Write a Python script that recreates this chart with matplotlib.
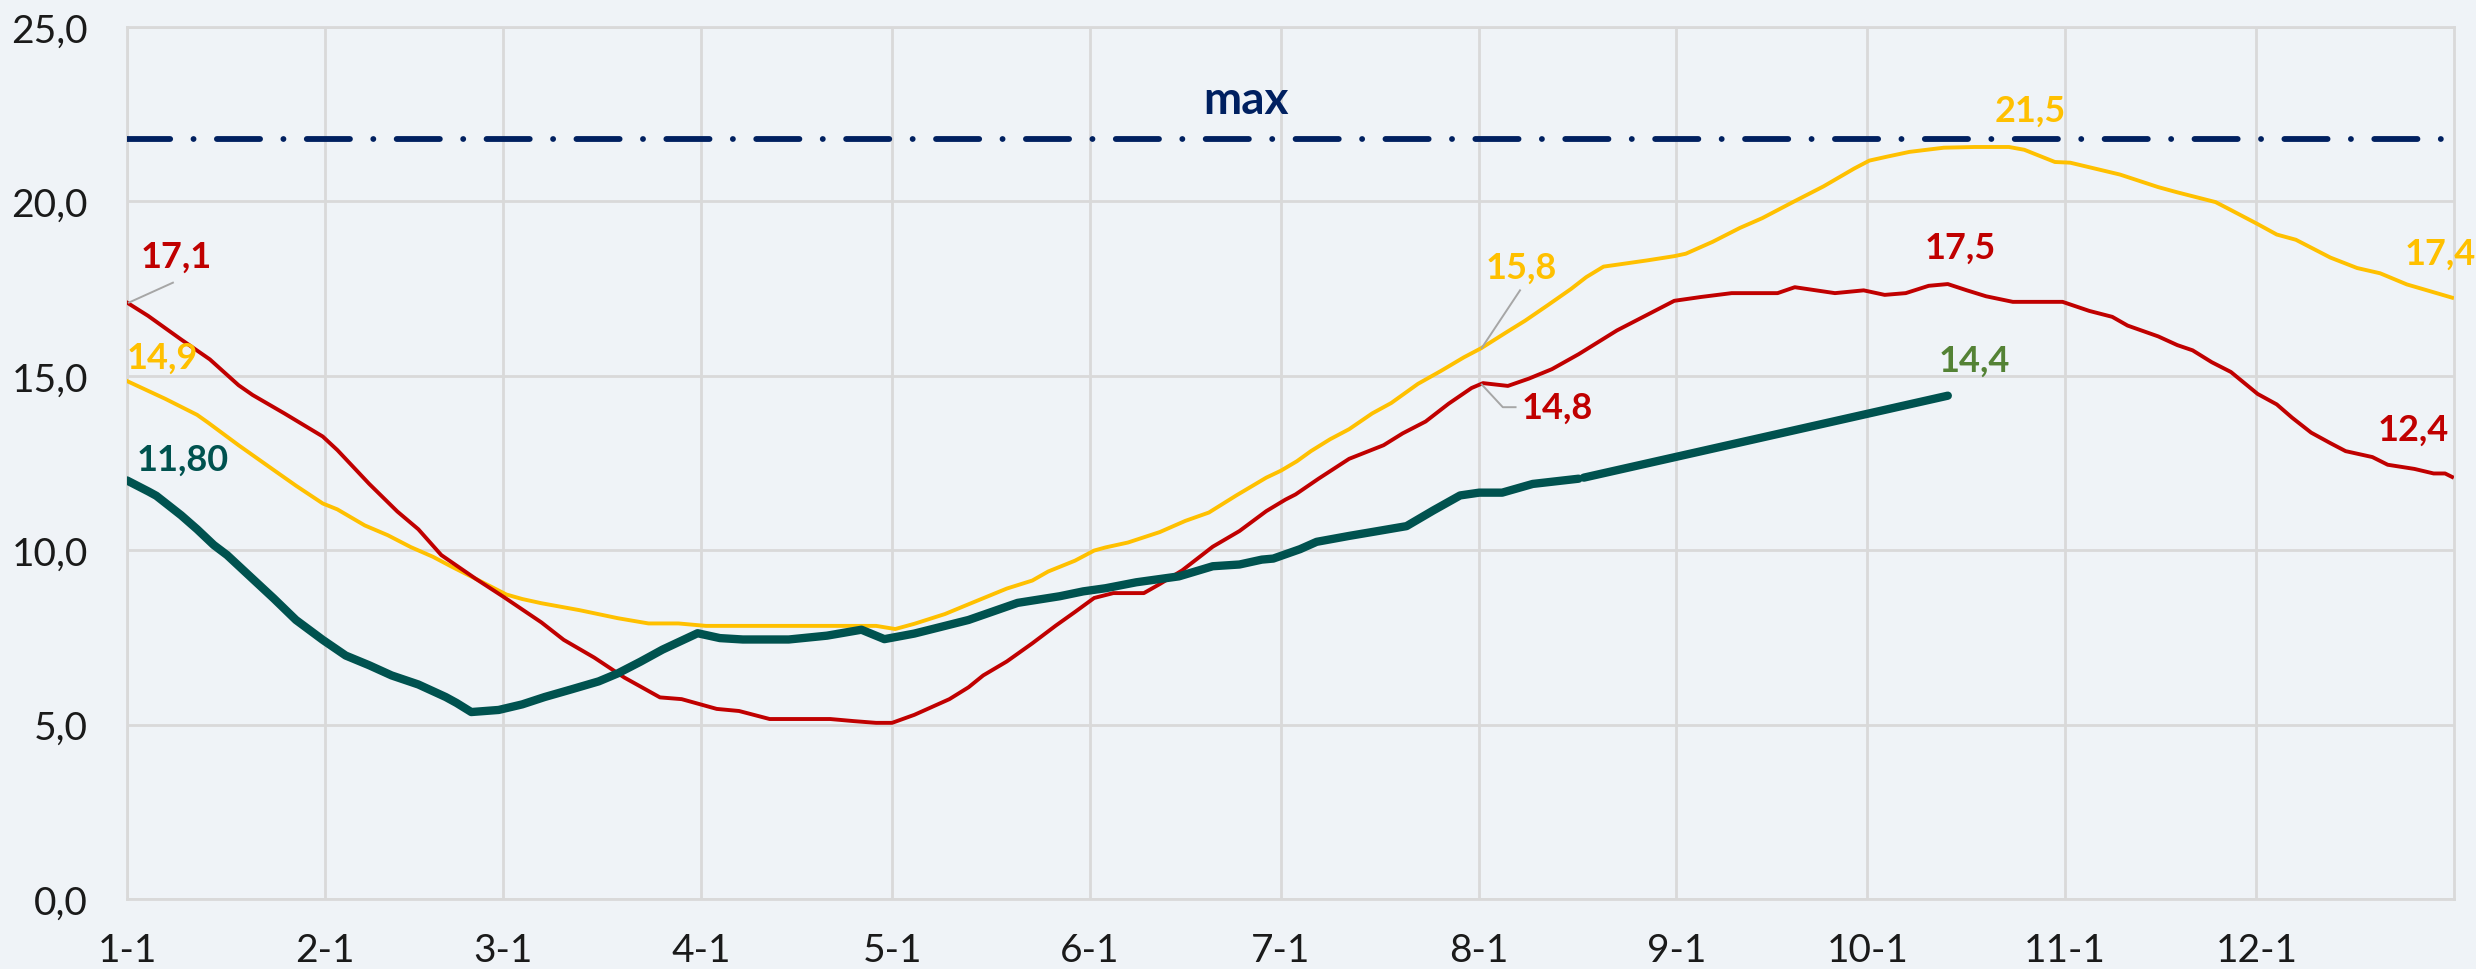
import matplotlib
matplotlib.use("Agg")
import matplotlib.pyplot as plt

# ---------------- data ----------------
month_ticks = [0, 31, 59, 90, 120, 151, 181, 212, 243, 273, 304, 334]
month_labels = ["1-1", "2-1", "3-1", "4-1", "5-1", "6-1", "7-1", "8-1", "9-1", "10-1", "11-1", "12-1"]
y_ticks = [0, 5, 10, 15, 20, 25]
y_labels = ["0,0", "5,0", "10,0", "15,0", "20,0", "25,0"]

max_level = 21.8

red_days = [0, 3.3, 8.5, 13, 17.5, 19.7, 24.7, 30.7, 33, 38, 42.4, 45.7, 49.3, 54.7, 59, 65, 68.5,
            73.3, 78, 83.6, 87, 92.5, 96, 100.8, 110.3, 114, 117.5, 120, 123.5, 129, 132, 134.3,
            138, 142, 145.7, 148.7, 151.7, 154.7, 159.5, 162, 165.5, 170.3, 174.5, 178.7, 181.7,
            183.3, 186.9, 191.7, 197.1, 200.1, 203.7, 207.3, 210.9, 212.7, 216.6, 219.9, 223.5,
            227.7, 230.7, 233.7, 237.3, 242.7, 246.9, 251.7, 258.9, 261.6, 267.9, 272.4, 275.7,
            279, 282.6, 285.6, 288.6, 291.6, 295.8, 303.6, 307.8, 311.4, 313.8, 318.6, 321.6, 324,
            327, 330, 334.2, 337.2, 339.6, 342.6, 345.6, 348, 352.2, 354.6, 358.8, 361.8, 363.6, 364.7]
red_vals = [17.1, 16.72, 16.04, 15.47, 14.73, 14.45, 13.92, 13.26, 12.87, 11.9, 11.11, 10.6, 9.86,
            9.18, 8.67, 7.93, 7.43, 6.92, 6.35, 5.78, 5.73, 5.45, 5.39, 5.16, 5.16, 5.1, 5.05, 5.05,
            5.28, 5.73, 6.07, 6.41, 6.81, 7.33, 7.84, 8.23, 8.63, 8.77, 8.77, 9.03, 9.42, 10.1,
            10.55, 11.12, 11.45, 11.6, 12.05, 12.62, 13.01, 13.35, 13.69, 14.2, 14.65, 14.79, 14.71,
            14.92, 15.19, 15.62, 15.96, 16.3, 16.64, 17.15, 17.26, 17.37, 17.37, 17.54, 17.37,
            17.45, 17.32, 17.37, 17.58, 17.63, 17.45, 17.28, 17.12, 17.12, 16.86, 16.69, 16.44,
            16.13, 15.88, 15.73, 15.39, 15.11, 14.48, 14.18, 13.8, 13.37, 13.07, 12.84, 12.67,
            12.45, 12.33, 12.2, 12.2, 12.1]

yel_days = [0, 6, 11, 12.7, 17.5, 23, 26.5, 30.7, 33, 37.3, 40.9, 44.5, 48, 51, 54.7, 59.5, 62, 65,
            71, 77, 81.8, 86.5, 90.8, 117.5, 120.5, 123.5, 128.3, 132, 138, 142, 144.5, 148.7,
            151.7, 153.5, 157, 162, 166, 169.7, 174, 178.7, 181, 183.5, 185.7, 188.7, 191.7, 195.3,
            198.3, 202.5, 206.1, 209.7, 212.4, 216.3, 219.3, 222.9, 226.5, 228.9, 231.6, 234.3,
            238.5, 242.7, 244.5, 248.7, 253, 256.5, 261.3, 266.1, 270.9, 273.3, 276, 279.6, 285,
            289.8, 295.2, 297.6, 302.4, 304.8, 312.6, 318.6, 321.6, 327.6, 329.4, 334.2, 337.2,
            340.2, 345.6, 349.8, 353.4, 357.6, 360.6, 364.7]
yel_vals = [14.85, 14.34, 13.88, 13.66, 13.01, 12.3, 11.85, 11.34, 11.17, 10.71, 10.43, 10.09, 9.81,
            9.52, 9.18, 8.73, 8.6, 8.48, 8.28, 8.05, 7.9, 7.9, 7.83, 7.83, 7.74, 7.89, 8.17, 8.45,
            8.9, 9.13, 9.39, 9.7, 9.99, 10.08, 10.22, 10.52, 10.84, 11.08, 11.57, 12.08, 12.28,
            12.55, 12.84, 13.18, 13.47, 13.92, 14.22, 14.77, 15.14, 15.53, 15.79, 16.24, 16.58,
            17.03, 17.49, 17.83, 18.13, 18.2, 18.31, 18.43, 18.5, 18.84, 19.24, 19.52, 19.98,
            20.43, 20.94, 21.17, 21.28, 21.42, 21.54, 21.56, 21.56, 21.48, 21.13, 21.11, 20.77,
            20.41, 20.26, 19.98, 19.81, 19.35, 19.05, 18.9, 18.39, 18.09, 17.94, 17.62, 17.46, 17.24]

grn_days = [0, 3.4, 4.6, 8.5, 11, 13.6, 15.7, 19.7, 23, 26.5, 30.7, 34.3, 38, 41.5, 45.7, 50, 51.7,
            54, 58.3, 62, 65.5, 69.7, 74, 77, 80.5, 84, 89.5, 93, 96.6, 103.8, 109.8, 115.2, 118.8,
            123.5, 132, 139.7, 146.3, 150, 153.5, 158.3, 165, 170.3, 174.5, 178, 179.8, 184, 186.6,
            191.7, 195.9, 200.7, 204.9, 209.1, 212.1, 215.7, 220.5, 227.7]
grn_vals = [12.0, 11.68, 11.56, 11.0, 10.6, 10.15, 9.86, 9.18, 8.62, 8.0, 7.43, 6.98, 6.7, 6.41,
            6.15, 5.79, 5.62, 5.36, 5.42, 5.58, 5.79, 6.01, 6.24, 6.47, 6.8, 7.15, 7.62, 7.48, 7.44,
            7.44, 7.55, 7.72, 7.45, 7.61, 8.0, 8.49, 8.68, 8.82, 8.91, 9.08, 9.25, 9.54, 9.59, 9.73,
            9.76, 10.03, 10.24, 10.41, 10.54, 10.69, 11.14, 11.57, 11.65, 11.65, 11.9, 12.05]

trend_days = [228.5, 285.6]
trend_vals = [12.08, 14.43]

# ---------------- style ----------------
BG = "#EFF3F7"
GRID = "#D9D9D9"
RED = "#C00000"
YEL = "#FFC000"
GRN = "#00524F"
NAVY = "#002060"
OLIVE = "#548235"
LEADER = "#A6A6A6"

plt.rcParams["font.family"] = ["Lato", "DejaVu Sans"]

fig = plt.figure(figsize=(24.76, 9.70), dpi=100, facecolor=BG)
ax = fig.add_axes([127 / 2476, 1 - 900 / 970, (2454 - 127) / 2476, (900 - 28) / 970])
ax.set_facecolor(BG)

ax.set_xlim(0, 365)
ax.set_ylim(0, 25)
ax.set_xticks(month_ticks)
ax.set_xticklabels(month_labels)
ax.set_yticks(y_ticks)
ax.set_yticklabels(y_labels)
ax.tick_params(axis="both", length=0, labelsize=28, colors="#1A1A1A")
ax.tick_params(axis="x", pad=24)
ax.tick_params(axis="y", pad=28)
ax.grid(True, color=GRID, linewidth=2.0)
ax.set_axisbelow(True)
for s in ax.spines.values():
    s.set_color(GRID)
    s.set_linewidth(2.0)

# max line
ax.plot([0, 365], [max_level, max_level], color=NAVY, linewidth=4.2,
        dashes=(7.4, 4.0, 0.01, 4.0), dash_capstyle="round", solid_capstyle="round", zorder=3)

ax.plot(yel_days, yel_vals, color=YEL, linewidth=2.8, zorder=4, solid_joinstyle="round")
ax.plot(red_days, red_vals, color=RED, linewidth=2.8, zorder=5, solid_joinstyle="round")
ax.plot(grn_days, grn_vals, color=GRN, linewidth=6.0, zorder=6, solid_capstyle="round",
        solid_joinstyle="round")
ax.plot(trend_days, trend_vals, color=GRN, linewidth=6.0, zorder=6, solid_capstyle="round")

# ---------------- labels ----------------
def lbl(x, y, t, c, size=26, ha="center"):
    ax.text(x, y, t, color=c, fontsize=size, fontweight="bold", ha=ha, va="center", zorder=8)

lbl(7.7, 18.43, "17,1", RED)
ax.plot([0.3, 7.2], [red_vals[0], 17.67], color=LEADER, linewidth=1.4, zorder=7)
lbl(0, 15.54, "14,9", YEL, ha="left")
lbl(8.8, 12.6, "11,80", GRN)
lbl(218.7, 18.12, "15,8", YEL)
ax.plot([212.5, 218.5], [15.8, 17.45], color=LEADER, linewidth=1.4, zorder=7)
lbl(224.3, 14.1, "14,8", RED)
ax.plot([212.5, 215.8, 217.8], [14.75, 14.1, 14.1], color=LEADER, linewidth=1.4, zorder=7)
lbl(287.5, 18.69, "17,5", RED)
lbl(289.7, 15.45, "14,4", OLIVE)
lbl(298.5, 22.6, "21,5", YEL)
lbl(357.2, 18.52, "17,4", YEL, ha="left")
lbl(358.6, 13.47, "12,4", RED)
ax.text(175.5, 22.9, "max", color=NAVY, fontsize=33, fontweight="bold", ha="center",
        va="center", zorder=8)

fig.savefig("out.png", dpi=100, facecolor=BG)
